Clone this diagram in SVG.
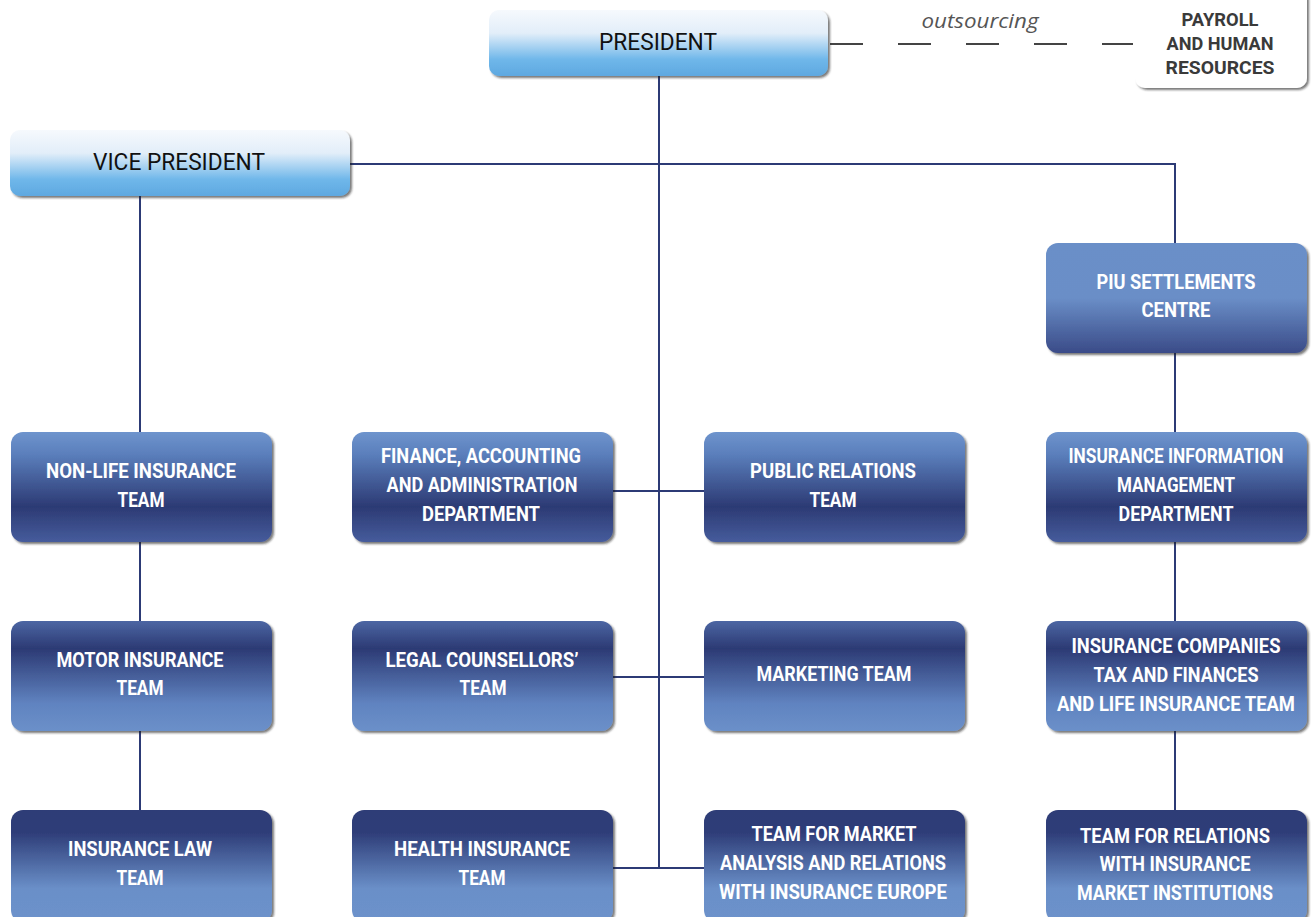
<svg xmlns="http://www.w3.org/2000/svg" width="1313" height="917" viewBox="0 0 1313 917">
<style>
.t{font-family:Roboto,"Liberation Sans",sans-serif;font-weight:bold;font-size:19.5px;fill:#ffffff;text-anchor:middle}
.top{font-family:Roboto,"Liberation Sans",sans-serif;font-size:23px;fill:#111111;text-anchor:middle}
.pay{font-family:Roboto,"Liberation Sans",sans-serif;font-weight:bold;font-size:19px;fill:#3a3a3a;text-anchor:middle}
.ln{stroke:#2c3a75;stroke-width:2;fill:none}
</style>
<defs>
<linearGradient id="gL" x1="0" y1="0" x2="0" y2="1">
<stop offset="0" stop-color="#f6f9fd"/><stop offset="0.35" stop-color="#e2eef9"/><stop offset="0.75" stop-color="#6fb7ea"/><stop offset="1" stop-color="#5ea8e0"/>
</linearGradient>
<linearGradient id="gA" x1="0" y1="0" x2="0" y2="1">
<stop offset="0" stop-color="#6e94cd"/><stop offset="0.2" stop-color="#5b7fbc"/><stop offset="0.68" stop-color="#2c3a74"/><stop offset="1" stop-color="#465c9c"/>
</linearGradient>
<linearGradient id="gB" x1="0" y1="0" x2="0" y2="1">
<stop offset="0" stop-color="#6a8fc8"/><stop offset="0.5" stop-color="#6a8ec7"/><stop offset="1" stop-color="#3a4b88"/>
</linearGradient>
<linearGradient id="gC" x1="0" y1="0" x2="0" y2="1">
<stop offset="0" stop-color="#4c66a3"/><stop offset="0.25" stop-color="#2c3a74"/><stop offset="0.75" stop-color="#6083c0"/><stop offset="1" stop-color="#6b90c9"/>
</linearGradient>
<linearGradient id="gD" x1="0" y1="0" x2="0" y2="1">
<stop offset="0" stop-color="#2e3c77"/><stop offset="0.2" stop-color="#2e3d78"/><stop offset="0.7" stop-color="#6a8fc8"/><stop offset="1" stop-color="#6d92cb"/>
</linearGradient>
<filter id="sh" x="-5%" y="-10%" width="112%" height="125%">
<feDropShadow dx="2" dy="2" stdDeviation="1.2" flood-color="#222" flood-opacity="0.6"/>
</filter>
</defs>

<g id="connectors">
<line class="ln" x1="659" y1="76" x2="659" y2="869"/>
<polyline class="ln" points="350,164 1175,164 1175,243"/>
<line class="ln" x1="140" y1="196" x2="140" y2="432"/>
<line class="ln" x1="140" y1="542" x2="140" y2="621"/>
<line class="ln" x1="140" y1="731" x2="140" y2="810"/>
<line class="ln" x1="1175" y1="353" x2="1175" y2="432"/>
<line class="ln" x1="1175" y1="542" x2="1175" y2="621"/>
<line class="ln" x1="1175" y1="731" x2="1175" y2="810"/>
<line class="ln" x1="613" y1="491" x2="704" y2="491"/>
<line class="ln" x1="613" y1="677" x2="704" y2="677"/>
<line class="ln" x1="613" y1="868" x2="704" y2="868"/>
<line x1="830" y1="44" x2="1133" y2="44" stroke="#444444" stroke-width="2" stroke-dasharray="33 35"/>
<text x="980" y="28" font-family="'Open Sans','Liberation Sans',sans-serif" font-style="italic" font-size="20" fill="#555555" text-anchor="middle" textLength="117" lengthAdjust="spacingAndGlyphs">outsourcing</text>
</g>

<g id="president">
<rect x="489" y="10" width="339" height="66" rx="10" fill="url(#gL)" filter="url(#sh)"/>
<text class="top" x="658" y="50" textLength="118" lengthAdjust="spacingAndGlyphs">PRESIDENT</text>
</g>
<g id="payroll">
<rect x="1135" y="-12" width="172" height="100" rx="10" fill="#ffffff" filter="url(#sh)"/>
<text class="pay" x="1220" y="26" textLength="77" lengthAdjust="spacingAndGlyphs">PAYROLL</text>
<text class="pay" x="1220" y="50" textLength="107" lengthAdjust="spacingAndGlyphs">AND HUMAN</text>
<text class="pay" x="1220" y="74" textLength="109" lengthAdjust="spacingAndGlyphs">RESOURCES</text>
</g>
<g id="vice-president">
<rect x="10" y="130" width="340" height="66" rx="10" fill="url(#gL)" filter="url(#sh)"/>
<text class="top" x="179" y="170" textLength="172" lengthAdjust="spacingAndGlyphs">VICE PRESIDENT</text>
</g>

<g id="piu">
<rect x="1046" y="243" width="261" height="110" rx="12" fill="url(#gB)" filter="url(#sh)"/>
<text class="t" x="1176" y="289" textLength="159" lengthAdjust="spacingAndGlyphs">PIU SETTLEMENTS</text>
<text class="t" x="1176" y="317" textLength="69" lengthAdjust="spacingAndGlyphs">CENTRE</text>
</g>

<g id="non-life">
<rect x="11" y="432" width="261" height="110" rx="12" fill="url(#gA)" filter="url(#sh)"/>
<text class="t" x="141" y="478" textLength="190" lengthAdjust="spacingAndGlyphs">NON-LIFE INSURANCE</text>
<text class="t" x="141" y="507" textLength="47" lengthAdjust="spacingAndGlyphs">TEAM</text>
</g>
<g id="finance">
<rect x="352" y="432" width="261" height="110" rx="12" fill="url(#gA)" filter="url(#sh)"/>
<text class="t" x="481" y="463" textLength="200" lengthAdjust="spacingAndGlyphs">FINANCE, ACCOUNTING</text>
<text class="t" x="482" y="492" textLength="191" lengthAdjust="spacingAndGlyphs">AND ADMINISTRATION</text>
<text class="t" x="481" y="521" textLength="118" lengthAdjust="spacingAndGlyphs">DEPARTMENT</text>
</g>
<g id="public-relations">
<rect x="704" y="432" width="261" height="110" rx="12" fill="url(#gA)" filter="url(#sh)"/>
<text class="t" x="833" y="478" textLength="166" lengthAdjust="spacingAndGlyphs">PUBLIC RELATIONS</text>
<text class="t" x="833" y="507" textLength="47" lengthAdjust="spacingAndGlyphs">TEAM</text>
</g>
<g id="info-mgmt">
<rect x="1046" y="432" width="261" height="110" rx="12" fill="url(#gA)" filter="url(#sh)"/>
<text class="t" x="1176" y="463" textLength="215" lengthAdjust="spacingAndGlyphs">INSURANCE INFORMATION</text>
<text class="t" x="1176" y="492" textLength="118" lengthAdjust="spacingAndGlyphs">MANAGEMENT</text>
<text class="t" x="1176" y="521" textLength="115" lengthAdjust="spacingAndGlyphs">DEPARTMENT</text>
</g>

<g id="motor">
<rect x="11" y="621" width="261" height="110" rx="12" fill="url(#gC)" filter="url(#sh)"/>
<text class="t" x="140" y="667" textLength="167" lengthAdjust="spacingAndGlyphs">MOTOR INSURANCE</text>
<text class="t" x="140" y="695" textLength="47" lengthAdjust="spacingAndGlyphs">TEAM</text>
</g>
<g id="legal">
<rect x="352" y="621" width="261" height="110" rx="12" fill="url(#gC)" filter="url(#sh)"/>
<text class="t" x="482" y="667" textLength="193" lengthAdjust="spacingAndGlyphs">LEGAL COUNSELLORS’</text>
<text class="t" x="483" y="695" textLength="47" lengthAdjust="spacingAndGlyphs">TEAM</text>
</g>
<g id="marketing">
<rect x="704" y="621" width="261" height="110" rx="12" fill="url(#gC)" filter="url(#sh)"/>
<text class="t" x="834" y="681" textLength="155" lengthAdjust="spacingAndGlyphs">MARKETING TEAM</text>
</g>
<g id="companies">
<rect x="1046" y="621" width="261" height="110" rx="12" fill="url(#gC)" filter="url(#sh)"/>
<text class="t" x="1176" y="653" textLength="209" lengthAdjust="spacingAndGlyphs">INSURANCE COMPANIES</text>
<text class="t" x="1176" y="682" textLength="165" lengthAdjust="spacingAndGlyphs">TAX AND FINANCES</text>
<text class="t" x="1176" y="711" textLength="238" lengthAdjust="spacingAndGlyphs">AND LIFE INSURANCE TEAM</text>
</g>

<g id="law">
<rect x="11" y="810" width="261" height="112" rx="12" fill="url(#gD)" filter="url(#sh)"/>
<text class="t" x="140" y="856" textLength="144" lengthAdjust="spacingAndGlyphs">INSURANCE LAW</text>
<text class="t" x="140" y="885" textLength="47" lengthAdjust="spacingAndGlyphs">TEAM</text>
</g>
<g id="health">
<rect x="352" y="810" width="261" height="112" rx="12" fill="url(#gD)" filter="url(#sh)"/>
<text class="t" x="482" y="856" textLength="176" lengthAdjust="spacingAndGlyphs">HEALTH INSURANCE</text>
<text class="t" x="482" y="885" textLength="47" lengthAdjust="spacingAndGlyphs">TEAM</text>
</g>
<g id="market-analysis">
<rect x="704" y="810" width="261" height="112" rx="12" fill="url(#gD)" filter="url(#sh)"/>
<text class="t" x="834" y="841" textLength="165" lengthAdjust="spacingAndGlyphs">TEAM FOR MARKET</text>
<text class="t" x="833" y="870" textLength="226" lengthAdjust="spacingAndGlyphs">ANALYSIS AND RELATIONS</text>
<text class="t" x="833" y="899" textLength="228" lengthAdjust="spacingAndGlyphs">WITH INSURANCE EUROPE</text>
</g>
<g id="market-institutions">
<rect x="1046" y="810" width="261" height="112" rx="12" fill="url(#gD)" filter="url(#sh)"/>
<text class="t" x="1175" y="843" textLength="190" lengthAdjust="spacingAndGlyphs">TEAM FOR RELATIONS</text>
<text class="t" x="1175" y="871" textLength="151" lengthAdjust="spacingAndGlyphs">WITH INSURANCE</text>
<text class="t" x="1175" y="900" textLength="196" lengthAdjust="spacingAndGlyphs">MARKET INSTITUTIONS</text>
</g>
</svg>
